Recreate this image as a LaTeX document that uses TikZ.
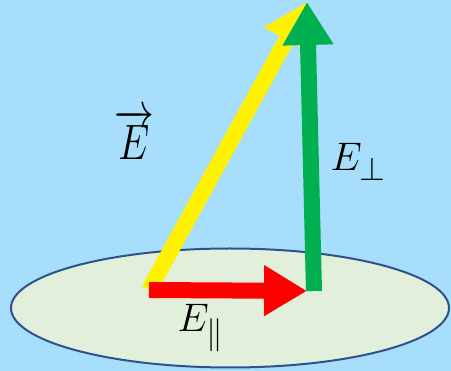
\documentclass[tikz,border=0pt]{standalone}
\usetikzlibrary{arrows.meta}
\begin{document}
\begin{tikzpicture}[x=1pt, y=-1pt, font=\Huge,
		vecarrow/.style={line width=16pt, -{Triangle[width=48pt, length=43pt]}},
		bigmath/.style={scale=1.6, transform shape}]
			\definecolor{skyback}{RGB}{166, 222, 251}
			\definecolor{planefill}{RGB}{226, 239, 218}
			\definecolor{planeedge}{RGB}{47, 82, 143}
			\definecolor{compgreen}{RGB}{0, 176, 80}
			\fill[skyback] (0,0) rectangle (451,371);
			\useasboundingbox (0,0) rectangle (451,371);
			\draw[planeedge, fill=planefill, line width=2pt] (230,308) ellipse [x radius=219, y radius=59.5];
			\coordinate (O) at (149,290);
			\coordinate (P) at (314,291);
			\coordinate (T) at (307,2);
			\draw[vecarrow, yellow] (O) -- (T);
			\draw[vecarrow, red, shorten >=7pt] (O) -- (P);
			\draw[vecarrow, compgreen] (P) -- (T);
			\node[bigmath, yscale=1.25] (vE) at (134,134) {\(\overrightarrow{E}\)};
			\node[bigmath, anchor=west] (Eperp) at (325,162) {\(E_\perp\)};
			\node[bigmath, anchor=west] (Epar) at (172,328) {\(E_\parallel\)};
		\end{tikzpicture}
\end{document}
